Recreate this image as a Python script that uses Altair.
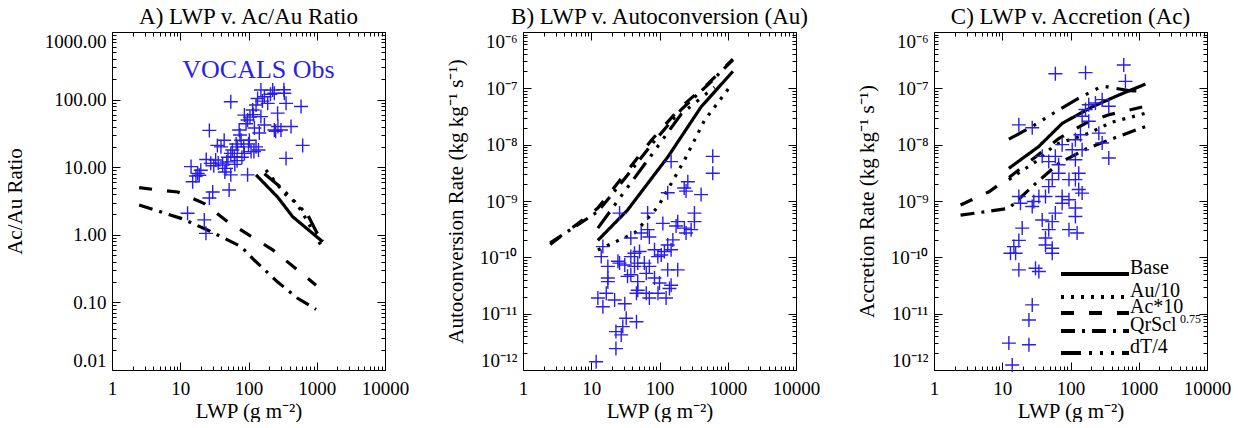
import altair as alt
import pandas as pd

FONT = "Liberation Serif"
BLUE = "#2a1fe6"
PLUS = "M-1,0L1,0M0,-1L0,1"

RUNS = ["Base", "Au/10", "Ac*10", "QrScl", "dT/4"]
DASHES = [[1, 0], [3, 7], [13, 15], [14, 7, 3, 7], [20, 8, 3, 8, 3, 8, 3, 8]]

X_MAJOR = [1, 10, 100, 1000, 10000]
X_MINOR = [m * d for d in [1, 10, 100, 1000] for m in range(2, 10)]
YA_MAJOR = [0.01, 0.1, 1, 10, 100, 1000]
YA_MINOR = [m * d for d in [0.01, 0.1, 1, 10, 100] for m in range(2, 10)]
YR_MAJOR = [1e-12, 1e-11, 1e-10, 1e-9, 1e-8, 1e-7, 1e-6]
YR_MINOR = [m * d for d in [1e-12, 1e-11, 1e-10, 1e-9, 1e-8, 1e-7] for m in range(2, 10)]
YR_LABELS = ["10⁻¹²", "10⁻¹¹", "10⁻¹⁰", "10⁻⁹", "10⁻⁸", "10⁻⁷", "10⁻⁶"]

# ---------------- Panel A: Ac/Au ratio ----------------
obs_a_lwp = [55, 26.7, 14.4, 15.2, 18, 19, 12.8, 22.5, 23.8, 26.7, 29.9, 28, 33, 39.5, 44,
             41.8, 46.8, 55, 52, 55, 62, 69, 73, 78, 87, 97, 87, 97, 115, 122, 103, 109,
             129, 129, 136, 152, 171, 191, 152, 171, 144, 226, 267, 239, 299, 335, 355,
             420, 589, 622, 355, 239, 17, 20, 31, 36, 48, 50, 58, 66, 75, 85, 92, 105,
             118, 120, 140, 100, 45, 63, 24, 35, 160, 210, 250, 270, 330, 68, 80]
obs_a_ratio = [93, 35, 10.2, 6.1, 8.1, 7.6, 2.08, 1.66, 1.05, 3.5, 4.3, 11.4, 12.8, 20, 25,
               10.8, 9.6, 7.7, 4.6, 16, 14.3, 20, 35.5, 25, 16, 7.7, 59, 50, 70, 38, 25, 17,
               20, 83, 104, 139, 110, 88, 56, 42, 32, 139, 63, 35.5, 35.5, 124, 88,
               40, 79, 21, 13.5, 124, 7.4, 9.0, 10.5, 11.5, 12, 14, 18, 22, 30, 20, 44, 55,
               60, 17, 18, 22, 8.5, 11, 13, 21, 95, 120, 34, 40, 140, 12.5, 14]

a_base_lwp = [129, 268, 444, 1220]
a_base_val = [7.7, 3.6, 1.85, 0.79]
a_au10_lwp = [180, 335, 469, 590, 1220]
a_au10_val = [9.1, 4.1, 3.1, 2.3, 0.63]
a_ac10_lwp = [2.5, 3.95, 9.2, 22.5, 49.6, 226, 976]
a_ac10_val = [5.0, 4.7, 4.3, 2.9, 1.56, 0.6, 0.18]
a_qr_lwp = [2.5, 10.3, 25, 78, 122, 268, 525, 976]
a_qr_val = [2.76, 1.75, 1.18, 0.67, 0.42, 0.2, 0.115, 0.079]
a_dt_lwp = [171, 300, 740, 990, 1220]
a_dt_val = [8.0, 5.0, 1.96, 1.1, 0.8]

vocals_x = [140]
vocals_y = [209]
vocals_text = ["VOCALS Obs"]

# ---------------- Panel B: autoconversion ----------------
obs_b_lwp = [603, 603, 148, 260, 245, 230, 407, 132, 325, 325, 291, 232, 185, 175, 112, 67,
             67, 71, 54, 38, 26, 38, 51, 48, 84.5, 94.6, 118, 132, 148, 157, 132, 106, 71,
             64, 43, 38, 31, 26, 34, 48, 48, 46, 64, 95, 84.5, 100, 140, 148, 125, 185, 71,
             17.5, 14, 14.8, 17.5, 17.5, 12.5, 16.6, 22, 14.8, 31, 32.5, 29, 46, 23, 27.5,
             23, 11.8, 24.6, 60, 43, 245]
obs_b_au = [6.2e-9, 3.1e-9, 5.0e-9, 2.2e-9, 1.5e-9, 1.7e-9, 1.3e-9, 1.4e-9, 6.1e-10, 4.3e-10,
            3.1e-10, 3.3e-10, 4.3e-10, 3.6e-10, 4.0e-10, 6.1e-10, 3.1e-10, 2.3e-10, 2.7e-10,
            2.2e-10, 6.1e-10, 1.03e-10, 1.27e-10, 7.9e-11, 1.36e-10, 1.03e-10, 1.27e-10,
            1.66e-10, 1.36e-10, 2.04e-10, 6.0e-11, 1.1e-10, 6.9e-11, 5.2e-11, 6.9e-11, 4.9e-11,
            7.3e-11, 7.9e-11, 4.6e-11, 3.7e-11, 2.6e-11, 2.3e-11, 2.3e-11, 2.3e-11, 4.3e-11,
            3.5e-11, 2.8e-11, 3.2e-11, 1.9e-11, 6.0e-11, 1.9e-11, 6.9e-11, 1.03e-10, 1.55e-10,
            4.3e-11, 3.7e-11, 1.9e-11, 2.3e-11, 1.75e-11, 1.33e-11, 1.5e-11, 8.3e-12, 5.9e-12,
            7.2e-12, 4.8e-12, 4.2e-12, 2.4e-12, 1.4e-12, 8.5e-11, 7.9e-11, 1.18e-10, 2.7e-10]

b_base_lwp = [12.5, 34, 133, 408, 1190]
b_base_val = [2.0e-10, 6.9e-10, 6.1e-9, 4.7e-8, 2.0e-7]
b_au10_lwp = [12.5, 43, 95, 232, 456, 1060]
b_au10_val = [1.35e-10, 2.7e-10, 7.9e-10, 5.3e-9, 2.7e-8, 1.04e-7]
b_ac10_lwp = [2.5, 6.4, 12.5, 31, 76, 208, 510, 1190]
b_ac10_val = [1.7e-10, 4.0e-10, 7.5e-10, 3.0e-9, 1.2e-8, 4.7e-8, 1.2e-7, 3.3e-7]
b_qr_lwp = [2.5, 6.4, 12.5, 31, 76, 208, 510, 1190]
b_qr_val = [1.8e-10, 3.8e-10, 6.5e-10, 2.5e-9, 1.0e-8, 4.2e-8, 1.15e-7, 3.2e-7]
b_dt_lwp = [12.5, 31, 76, 208, 640]
b_dt_val = [3.3e-10, 1.5e-9, 6.5e-9, 3.5e-8, 1.05e-7]

# ---------------- Panel C: accretion ----------------
obs_c_lwp = [60, 166, 603, 638, 17.5, 27.5, 148, 166, 185, 232, 291, 364, 260, 291, 364, 185,
             140, 118, 106, 75.5, 60, 48, 38.5, 67, 118, 148, 132, 118, 95, 67, 54, 48, 43,
             34.4, 29, 27.5, 17.5, 18.5, 75.5, 95, 118, 148, 132, 118, 95, 125, 75.5, 60, 54,
             38.5, 48, 43, 43, 54, 54, 19.6, 17.5, 14.8, 15.7, 13.2, 17.5, 30.7, 34.4, 27.5,
             24.6, 12.5, 24.6, 14]
obs_c_ac = [1.82e-7, 1.9e-7, 2.6e-7, 1.33e-7, 2.25e-8, 2e-8, 3.2e-8, 4.2e-8, 5.1e-8, 5.5e-8,
            6.3e-8, 4.8e-8, 1.6e-8, 1.07e-8, 5.8e-9, 2.6e-8, 1.5e-8, 1.22e-8, 8.1e-9, 1e-8,
            6.2e-9, 5e-9, 6.2e-9, 4.4e-9, 5.4e-9, 8.1e-9, 3.1e-9, 2.4e-9, 2.4e-9, 3.1e-9,
            2.4e-9, 1.8e-9, 1.2e-9, 1.2e-9, 9.8e-10, 8e-10, 1.2e-9, 9.1e-10, 1.2e-9, 1.05e-9,
            7.5e-10, 1.38e-9, 1.6e-9, 5.3e-10, 3.1e-10, 2.7e-10, 9.1e-10, 6.1e-10, 4.3e-10,
            4.6e-10, 3.1e-10, 2.2e-10, 1.66e-10, 1.45e-10, 1.18e-10, 3.3e-10, 2e-10, 1.55e-10,
            1.18e-10, 1.18e-10, 6e-11, 6.4e-11, 5.6e-11, 1.43e-11, 7.7e-12, 3e-12, 2.8e-12,
            1.23e-12]

c_base_lwp = [12.5, 34, 76, 208, 511, 1253]
c_base_val = [3.8e-9, 9.2e-9, 2.4e-8, 4.7e-8, 7.6e-8, 1.19e-7]
c_au10_lwp = [12.5, 31, 60, 186, 400, 1253]
c_au10_val = [2.4e-9, 5.0e-9, 1.0e-8, 1.6e-8, 2.5e-8, 3.6e-8]
c_ac10_lwp = [2.45, 6.4, 12.5, 31, 68, 166, 365, 1253]
c_ac10_val = [8.5e-10, 1.46e-9, 2.6e-9, 6.1e-9, 1.3e-8, 2.4e-8, 3.4e-8, 4.8e-8]
c_qr_lwp = [2.45, 12.5, 31, 68, 166, 365, 1253]
c_qr_val = [5.6e-10, 7.4e-10, 2.06e-9, 4.7e-9, 8.3e-9, 1.21e-8, 2.1e-8]
c_dt_lwp = [12.5, 27.5, 60, 118, 291, 716, 1000]
c_dt_val = [1.25e-8, 2.1e-8, 3.8e-8, 6.2e-8, 1.1e-7, 9.1e-8, 9.0e-8]

# legend (drawn in panel C data space)
leg_x0 = [72.6]
leg_x1 = [720]
leg_y = [5.06e-11, 1.98e-11, 1.03e-11, 4.92e-12, 2.0e-12]
leg_labels = ["Base", "Au/10", "Ac*10", "QrScl", "dT/4"]
leg_sup = ["0.75"]


def lines_frame(pairs):
    rows = []
    for run, (xs, ys) in zip(RUNS, pairs):
        for x, y in zip(xs, ys):
            rows.append({"lwp": x, "val": y, "run": run})
    return pd.DataFrame(rows)


XS = alt.Scale(type="log", domain=[1, 10000], nice=False)
LAB = 19
TIT = 21
MAJ = 8
MIN = 4


def panel(obs_df, lines_df, ydom, ymaj, ymin, ylabel_kw, ytitle, title, ytp, extra=None):
    ys = alt.Scale(type="log", domain=ydom, nice=False)

    def xaxis(kind, orient):
        if kind == "label":
            return alt.Axis(orient="bottom", values=X_MAJOR, format="d", ticks=False,
                            domain=False, grid=False, labelPadding=9, labelFlush=False,
                            titlePadding=2, labelFontSize=LAB, titleFontSize=TIT)
        vals = X_MAJOR if kind == "major" else X_MINOR
        size = MAJ if kind == "major" else MIN
        return alt.Axis(orient=orient, values=vals, tickSize=size, offset=-size,
                        labels=False, domain=False, grid=False, ticks=True,
                        tickColor="black", tickWidth=1)

    def yaxis(kind, orient):
        if kind == "label":
            return alt.Axis(orient="left", values=ymaj, ticks=False, domain=False,
                            grid=False, labelPadding=6, labelFlush=True,
                            titlePadding=ytp, labelFontSize=LAB, titleFontSize=TIT,
                            **ylabel_kw)
        vals = ymaj if kind == "major" else ymin
        size = MAJ if kind == "major" else MIN
        return alt.Axis(orient=orient, values=vals, tickSize=size, offset=-size,
                        labels=False, domain=False, grid=False, ticks=True,
                        tickColor="black", tickWidth=1)

    lines = alt.Chart(lines_df).mark_line(strokeWidth=3.2, strokeCap="butt", color="black").encode(
        x=alt.X("lwp:Q", scale=XS, axis=None),
        y=alt.Y("val:Q", scale=ys, axis=None),
        strokeDash=alt.StrokeDash("run:N", scale=alt.Scale(domain=RUNS, range=DASHES), legend=None),
    )
    pts = alt.Chart(obs_df).mark_point(shape=PLUS, filled=False, size=196, strokeWidth=1.4,
                                       color=BLUE, opacity=1).encode(
        x=alt.X("lwp:Q", scale=XS, axis=xaxis("label", "bottom"), title="LWP (g m⁻²)"),
        y=alt.Y("val:Q", scale=ys, axis=yaxis("label", "left"), title=ytitle),
    )
    carriers = []
    for kind, xo, yo in [("major", "bottom", "left"), ("minor", "bottom", "left"),
                         ("major", "top", "right"), ("minor", "top", "right")]:
        carriers.append(alt.Chart(obs_df).mark_point(opacity=0).encode(
            x=alt.X("lwp:Q", scale=XS, axis=xaxis(kind, xo), title=None),
            y=alt.Y("val:Q", scale=ys, axis=yaxis(kind, yo), title=None),
        ))
    layers = [lines] + (extra(ys) if extra else []) + [pts] + carriers
    return alt.layer(*layers).resolve_axis(x="independent", y="independent").properties(
        width=273, height=338,
        title=alt.TitleParams(title, font=FONT, fontSize=23, fontWeight="normal",
                              anchor="middle", frame="group", offset=3, color="black"),
    )


obs_a = pd.DataFrame({"lwp": obs_a_lwp, "val": obs_a_ratio})
obs_b = pd.DataFrame({"lwp": obs_b_lwp, "val": obs_b_au})
obs_c = pd.DataFrame({"lwp": obs_c_lwp, "val": obs_c_ac})

lines_a = lines_frame([(a_base_lwp, a_base_val), (a_au10_lwp, a_au10_val), (a_ac10_lwp, a_ac10_val),
                       (a_qr_lwp, a_qr_val), (a_dt_lwp, a_dt_val)])
lines_b = lines_frame([(b_base_lwp, b_base_val), (b_au10_lwp, b_au10_val), (b_ac10_lwp, b_ac10_val),
                       (b_qr_lwp, b_qr_val), (b_dt_lwp, b_dt_val)])
lines_c = lines_frame([(c_base_lwp, c_base_val), (c_au10_lwp, c_au10_val), (c_ac10_lwp, c_ac10_val),
                       (c_qr_lwp, c_qr_val), (c_dt_lwp, c_dt_val)])


def extra_a(ys):
    df = pd.DataFrame({"x": vocals_x, "y": vocals_y, "t": vocals_text})
    return [alt.Chart(df).mark_text(font=FONT, fontSize=26, color=BLUE, align="center",
                                    baseline="alphabetic").encode(
        x=alt.X("x:Q", scale=XS, axis=None), y=alt.Y("y:Q", scale=ys, axis=None), text="t:N")]


def extra_c(ys):
    rows = []
    for run, y in zip(RUNS, leg_y):
        rows.append({"x": leg_x0[0], "y": y, "run": run})
        rows.append({"x": leg_x1[0], "y": y, "run": run})
    ldf = pd.DataFrame(rows)
    tdf = pd.DataFrame({"x": [leg_x1[0]] * len(leg_labels), "y": leg_y, "t": leg_labels})
    sdf = pd.DataFrame({"x": [leg_x1[0]], "y": [leg_y[3]], "t": leg_sup})
    leg_lines = alt.Chart(ldf).mark_line(strokeWidth=4, strokeCap="butt", color="black").encode(
        x=alt.X("x:Q", scale=XS, axis=None), y=alt.Y("y:Q", scale=ys, axis=None),
        strokeDash=alt.StrokeDash("run:N", scale=alt.Scale(domain=RUNS, range=DASHES), legend=None),
    )
    leg_text = alt.Chart(tdf).mark_text(font=FONT, fontSize=20, align="left", baseline="alphabetic",
                                        dx=1, color="black").encode(
        x=alt.X("x:Q", scale=XS, axis=None), y=alt.Y("y:Q", scale=ys, axis=None), text="t:N")
    sup_text = alt.Chart(sdf).mark_text(font=FONT, fontSize=12, align="left", baseline="alphabetic",
                                        dx=51, dy=-8, color="black").encode(
        x=alt.X("x:Q", scale=XS, axis=None), y=alt.Y("y:Q", scale=ys, axis=None), text="t:N")
    return [leg_lines, leg_text, sup_text]


expr = "".join(
    f"datum.value < {v * 3:.1e} ? '{lab}' : " for v, lab in zip(YR_MAJOR[:-1], YR_LABELS[:-1])
) + f"'{YR_LABELS[-1]}'"

pa = panel(obs_a, lines_a, [0.01, 1000], YA_MAJOR, YA_MINOR, {"format": ".2f"},
           "Ac/Au Ratio", "A) LWP v. Ac/Au Ratio", 19, extra_a)
pb = panel(obs_b, lines_b, [1e-12, 1e-6], YR_MAJOR, YR_MINOR, {"labelExpr": expr},
           "Autoconversion Rate (kg kg⁻¹ s⁻¹)", "B) LWP v. Autoconversion (Au)", 13)
pc = panel(obs_c, lines_c, [1e-12, 1e-6], YR_MAJOR, YR_MINOR, {"labelExpr": expr},
           "Accretion Rate (kg kg⁻¹ s⁻¹)", "C) LWP v. Accretion (Ac)", 13, extra_c)

chart = alt.hconcat(pa, pb, pc, spacing=138, bounds="flush").properties(
    padding={"left": -5, "top": -3, "right": 0, "bottom": 0},
    background="white",
).configure_view(stroke="black", strokeWidth=1).configure_axis(
    labelFont=FONT, titleFont=FONT, labelColor="black", titleColor="black",
    titleFontWeight="normal",
)

chart.save("out.html", embed_options={"renderer": "svg", "actions": False})
